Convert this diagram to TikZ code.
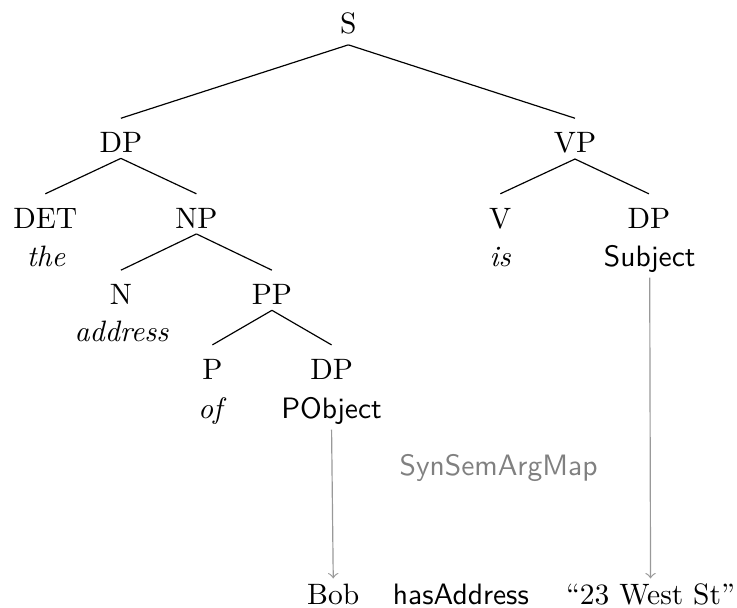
\documentclass[tikz,border=0pt]{standalone}
\usepackage{tikz}

\begin{document}
\begin{tikzpicture}[
        cat/.style={anchor=base, inner sep=1.7pt, text height=9.8pt},
        word/.style={anchor=base, inner sep=1.7pt},
        val/.style={anchor=base, inner sep=1.7pt, text height=6.9pt},
        edge/.style={thin},
        mapto/.style={->, thin, black!40}
    ]
        \useasboundingbox (0, 0) rectangle (8.78, 7.24);

        % Radice
        \node[cat, inner sep=3.4pt] (s) at (4.15, 6.84) {S};

        % Livello 1
        \node[cat] (dp) at (1.44, 5.42) {DP};
        \node[cat] (vp) at (6.85, 5.42) {VP};

        % Livello 2
        \node[cat] (det) at (0.54, 4.52) {DET};
        \node[cat] (np) at (2.34, 4.52) {NP};
        \node[cat] (v) at (5.96, 4.52) {V};
        \node[cat] (dpsubj) at (7.73, 4.52) {DP};
        \node[word] (the) at (0.55, 4.07) {\textit{the}};
        \node[word] (is) at (5.96, 4.07) {\textit{is}};
        \node[word] (subj) at (7.74, 4.07) {\textsf{Subject}};

        % Livello 3
        \node[cat] (n) at (1.44, 3.61) {N};
        \node[cat] (pp) at (3.24, 3.61) {PP};
        \node[word] (address) at (1.45, 3.17) {\textit{address}};

        % Livello 4
        \node[cat] (p) at (2.53, 2.72) {P};
        \node[cat] (dpobj) at (3.95, 2.72) {DP};
        \node[word] (of) at (2.53, 2.26) {\textit{of}};
        \node[word] (pobj) at (3.95, 2.26) {\textsf{PObject}};

        % Archi
        \draw[edge] (s.south) -- (dp.north);
        \draw[edge] (s.south) -- (vp.north);
        \draw[edge] (dp.south) -- (det.north);
        \draw[edge] (dp.south) -- (np.north);
        \draw[edge] (vp.south) -- (v.north);
        \draw[edge] (vp.south) -- (dpsubj.north);
        \draw[edge] (np.south) -- (n.north);
        \draw[edge] (np.south) -- (pp.north);
        \draw[edge] (pp.south) -- (p.north);
        \draw[edge] (pp.south) -- (dpobj.north);

        % Mappa sintassi -> semantica
        \node[anchor=base, text=black!50, font=\sffamily] (map) at (5.94, 1.58) {SynSemArgMap};

        \node[val] (bob) at (3.97, 0.04) {Bob};
        \node[val, font=\sffamily] (rel) at (5.49, 0.04) {hasAddress};
        \node[val] (addr) at (7.75, 0.04) {``23 West St''};

        \draw[mapto] (pobj.south) -- (bob.north);
        \draw[mapto] (subj.south) -- (addr.north);

    \end{tikzpicture}
\end{document}
